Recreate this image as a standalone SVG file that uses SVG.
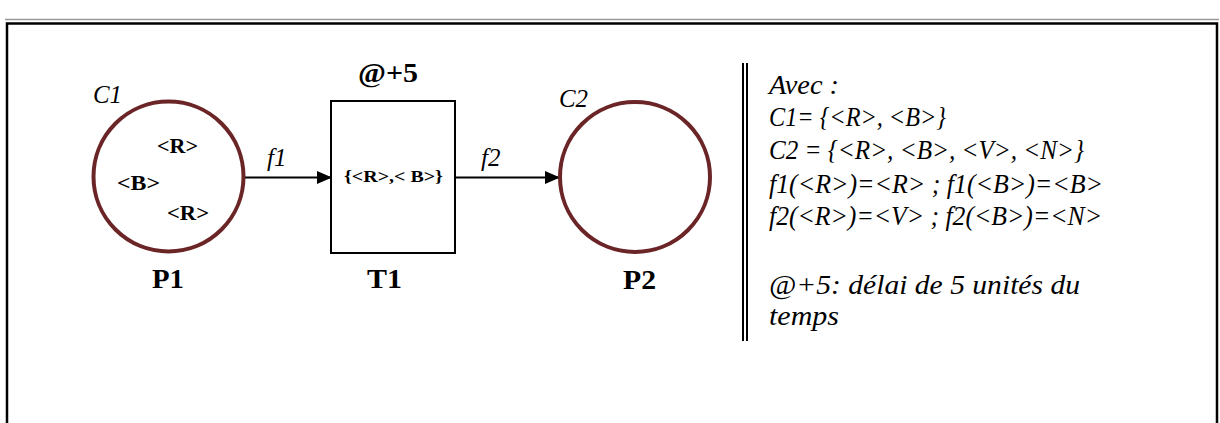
<svg xmlns="http://www.w3.org/2000/svg" width="1220" height="423" viewBox="0 0 1220 423">
<style>
.place{fill:none;stroke:#6b2527;stroke-width:4}
.trans{fill:#fff;stroke:#000;stroke-width:2}
.arc{stroke:#000;stroke-width:2;fill:none}
.it{font-family:"Liberation Serif",serif;font-style:italic;font-size:25px;fill:#000}
.bd{font-family:"Liberation Serif",serif;font-weight:bold;fill:#000}
.tok{font-size:20px}
.lbl{font-size:28px}
.txt{font-family:"Liberation Serif",serif;font-style:italic;font-size:27px;fill:#000}
</style>
<defs>
<marker id="ah" markerWidth="15" markerHeight="13" refX="14" refY="6.5" orient="auto" markerUnits="userSpaceOnUse">
<path d="M0,0 L15,6.5 L0,13 z" fill="#000"/>
</marker>
</defs>
<rect x="0" y="0" width="1220" height="423" fill="#fff"/>
<g id="frame">
<line x1="5" y1="19.5" x2="1219" y2="19.5" stroke="#999" stroke-width="1.5"/>
<path d="M7,423 V23.5 H1217 V423" fill="none" stroke="#000" stroke-width="2.5"/>
</g>
<g id="connectors">
<line class="arc" x1="245" y1="177.5" x2="331" y2="177.5" marker-end="url(#ah)"/>
<text class="it" x="267" y="166">f1</text>
<line class="arc" x1="455" y1="177.5" x2="559" y2="177.5" marker-end="url(#ah)"/>
<text class="it" x="481" y="166">f2</text>
</g>
<g id="P1">
<circle class="place" cx="168.5" cy="176.5" r="75"/>
<text class="it" x="93" y="103" textLength="29" lengthAdjust="spacingAndGlyphs">C1</text>
<text class="bd tok" x="157" y="153" textLength="41" lengthAdjust="spacingAndGlyphs">&lt;R&gt;</text>
<text class="bd tok" x="117" y="190" textLength="43" lengthAdjust="spacingAndGlyphs">&lt;B&gt;</text>
<text class="bd tok" x="167" y="220" textLength="42" lengthAdjust="spacingAndGlyphs">&lt;R&gt;</text>
<text class="bd lbl" x="152" y="288" textLength="32" lengthAdjust="spacingAndGlyphs">P1</text>
</g>
<g id="T1">
<rect class="trans" x="331" y="101" width="124" height="152"/>
<text class="bd lbl" x="358" y="82" textLength="60" lengthAdjust="spacingAndGlyphs">@+5</text>
<text class="bd" font-size="17" x="344" y="182" textLength="99" lengthAdjust="spacingAndGlyphs">{&lt;R&gt;,&lt; B&gt;}</text>
<text class="bd lbl" x="367" y="288" textLength="35" lengthAdjust="spacingAndGlyphs">T1</text>
</g>
<g id="P2">
<circle class="place" cx="635" cy="177" r="75"/>
<text class="it" x="559" y="107" textLength="29" lengthAdjust="spacingAndGlyphs">C2</text>
<text class="bd lbl" x="623" y="289" textLength="33" lengthAdjust="spacingAndGlyphs">P2</text>
</g>
<g id="legend">
<line x1="743" y1="63" x2="743" y2="341" stroke="#000" stroke-width="2"/>
<line x1="747" y1="63" x2="747" y2="341" stroke="#000" stroke-width="2"/>
<text class="txt" x="769" y="94" textLength="70" lengthAdjust="spacingAndGlyphs">Avec :</text>
<text class="txt" x="769" y="126" textLength="177" lengthAdjust="spacingAndGlyphs">C1= {&lt;R&gt;, &lt;B&gt;}</text>
<text class="txt" x="769" y="159" textLength="315" lengthAdjust="spacingAndGlyphs">C2 = {&lt;R&gt;, &lt;B&gt;, &lt;V&gt;, &lt;N&gt;}</text>
<text class="txt" x="769" y="193" textLength="334" lengthAdjust="spacingAndGlyphs">f1(&lt;R&gt;)=&lt;R&gt; ; f1(&lt;B&gt;)=&lt;B&gt;</text>
<text class="txt" x="769" y="225" textLength="333" lengthAdjust="spacingAndGlyphs">f2(&lt;R&gt;)=&lt;V&gt; ; f2(&lt;B&gt;)=&lt;N&gt;</text>
<text class="txt" x="769" y="294" textLength="311" lengthAdjust="spacingAndGlyphs">@+5: délai de 5 unités du</text>
<text class="txt" x="769" y="325" textLength="70" lengthAdjust="spacingAndGlyphs">temps</text>
</g>
</svg>
